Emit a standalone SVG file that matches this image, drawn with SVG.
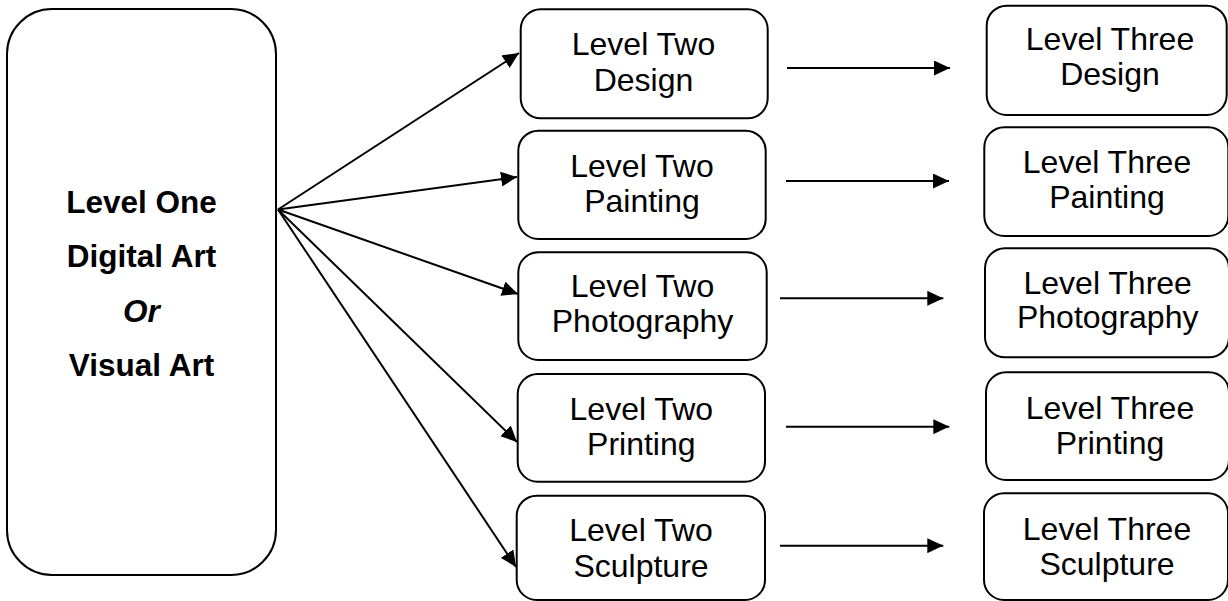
<svg xmlns="http://www.w3.org/2000/svg" width="1228" height="601" viewBox="0 0 1228 601">
  <style>
    .box { fill: #ffffff; stroke: #000000; stroke-width: 2; }
    .t { font-family: "Liberation Sans", Arial, sans-serif; font-size: 32px; fill: #000000; text-anchor: middle; }
    .b { font-weight: bold; font-size: 31.5px; }
    .i { font-style: italic; font-weight: bold; font-size: 31.5px; }
    .c { stroke: #000000; stroke-width: 2; fill: none; marker-end: url(#ah); }
  </style>
  <defs>
    <marker id="ah" viewBox="0 0 16 15" refX="16" refY="7.5" markerWidth="16" markerHeight="15" markerUnits="userSpaceOnUse" orient="auto">
      <path d="M0,0 L16,7.5 L0,15 Z" fill="#000000"/>
    </marker>
  </defs>
  <rect width="1228" height="601" fill="#ffffff"/>

  <g id="level-one">
    <rect class="box" x="7" y="9" width="269" height="566" rx="45" ry="45"/>
    <text class="t b" x="141.5" y="212.5">Level One</text>
    <text class="t b" x="141.5" y="267">Digital Art</text>
    <text class="t i" x="141.5" y="321.5">Or</text>
    <text class="t b" x="141.5" y="376">Visual Art</text>
  </g>

  <g id="l2-design">
    <rect class="box" x="520.7" y="9.3" width="247" height="109" rx="20" ry="20"/>
    <text class="t" x="643.5" y="55.3">Level Two</text>
    <text class="t" x="643.5" y="90.7">Design</text>
  </g>
  <g id="l2-painting">
    <rect class="box" x="518.3" y="130.7" width="247.4" height="108.3" rx="20" ry="20"/>
    <text class="t" x="642" y="176.7">Level Two</text>
    <text class="t" x="642" y="211.7">Painting</text>
  </g>
  <g id="l2-photography">
    <rect class="box" x="518.3" y="252.3" width="248.4" height="107.7" rx="20" ry="20"/>
    <text class="t" x="642.5" y="297.3">Level Two</text>
    <text class="t" x="642.5" y="331.7">Photography</text>
  </g>
  <g id="l2-printing">
    <rect class="box" x="517.7" y="374" width="247.3" height="107.7" rx="20" ry="20"/>
    <text class="t" x="641.3" y="420">Level Two</text>
    <text class="t" x="641.3" y="455">Printing</text>
  </g>
  <g id="l2-sculpture">
    <rect class="box" x="516.7" y="495.7" width="248.3" height="104.3" rx="20" ry="20"/>
    <text class="t" x="641" y="541">Level Two</text>
    <text class="t" x="641" y="576.7">Sculpture</text>
  </g>

  <g id="l3-design">
    <rect class="box" x="986.7" y="5.7" width="240" height="109.3" rx="20" ry="20"/>
    <text class="t" x="1110" y="50">Level Three</text>
    <text class="t" x="1110" y="85">Design</text>
  </g>
  <g id="l3-painting">
    <rect class="box" x="984.3" y="127.3" width="244" height="108.7" rx="20" ry="20"/>
    <text class="t" x="1107" y="172.7">Level Three</text>
    <text class="t" x="1107" y="208.3">Painting</text>
  </g>
  <g id="l3-photography">
    <rect class="box" x="985" y="248.3" width="244" height="109" rx="20" ry="20"/>
    <text class="t" x="1107.7" y="294.3">Level Three</text>
    <text class="t" x="1107.7" y="328.3">Photography</text>
  </g>
  <g id="l3-printing">
    <rect class="box" x="986" y="372.3" width="243" height="107.7" rx="20" ry="20"/>
    <text class="t" x="1110" y="419.3">Level Three</text>
    <text class="t" x="1110" y="454.3">Printing</text>
  </g>
  <g id="l3-sculpture">
    <rect class="box" x="984" y="493.3" width="244" height="106.7" rx="20" ry="20"/>
    <text class="t" x="1107" y="540">Level Three</text>
    <text class="t" x="1107" y="575">Sculpture</text>
  </g>

  <g id="connectors">
    <line class="c" x1="278" y1="209.5" x2="519" y2="53"/>
    <line class="c" x1="278" y1="209.5" x2="517" y2="177"/>
    <line class="c" x1="278" y1="209.5" x2="518" y2="294"/>
    <line class="c" x1="278" y1="209.5" x2="517" y2="442"/>
    <line class="c" x1="278" y1="209.5" x2="516" y2="567"/>
    <line class="c" x1="787" y1="68" x2="950" y2="68"/>
    <line class="c" x1="786" y1="181" x2="949" y2="181"/>
    <line class="c" x1="780" y1="298.3" x2="943.3" y2="298.3"/>
    <line class="c" x1="786" y1="426.7" x2="949.3" y2="426.7"/>
    <line class="c" x1="780" y1="545.7" x2="943.3" y2="545.7"/>
  </g>
</svg>
